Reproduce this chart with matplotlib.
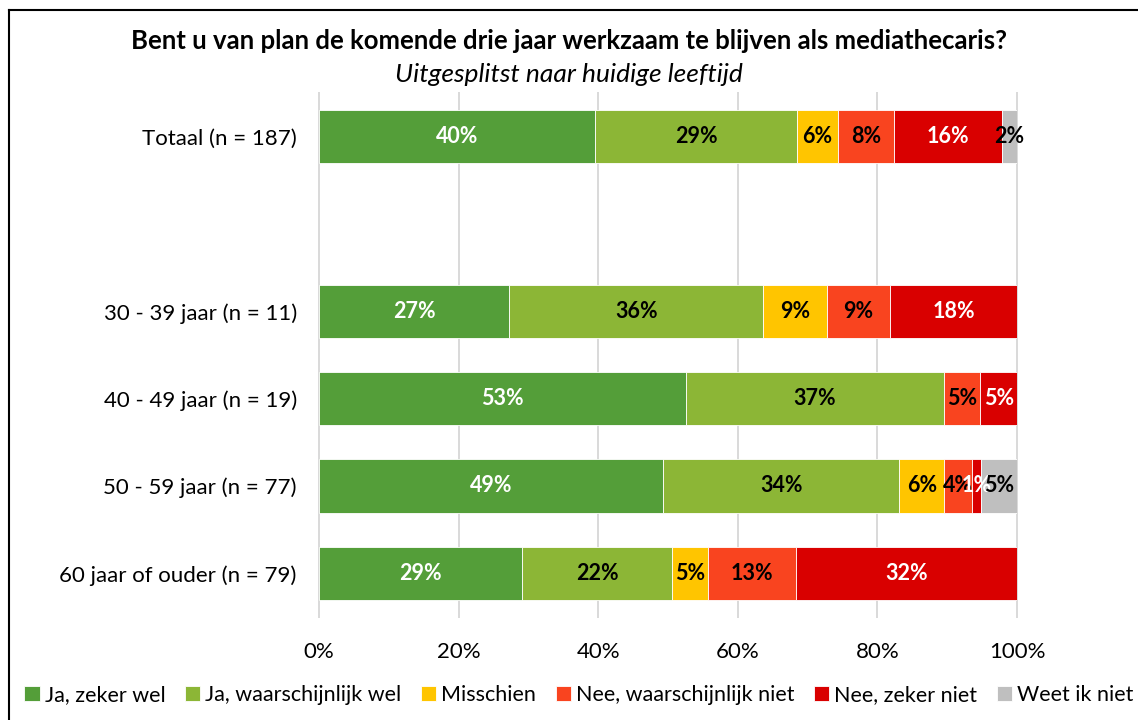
import numpy as np
import matplotlib
matplotlib.use("Agg")
import matplotlib.pyplot as plt
from matplotlib.lines import Line2D

plt.rcParams['font.family'] = ['Lato', 'DejaVu Sans']

# antwoordcategorieen en kleuren
antwoorden = ["Ja, zeker wel", "Ja, waarschijnlijk wel", "Misschien",
              "Nee, waarschijnlijk niet", "Nee, zeker niet", "Weet ik niet"]
kleuren = ["#549E39", "#8CB636", "#FFC500", "#F9441F", "#D90000", "#BFBFBF"]
tekstkleur = ["white", "black", "black", "black", "white", "black"]

# groepen (leeg = witregel tussen totaal en leeftijden)
groepen = ["Totaal (n = 187)", "", "30 - 39 jaar (n = 11)", "40 - 49 jaar (n = 19)",
           "50 - 59 jaar (n = 77)", "60 jaar of ouder (n = 79)"]
n_groep = [187, 0, 11, 19, 77, 79]

# aantallen per antwoord, per groep
ja_zeker = [74, 0, 3, 10, 38, 23]
ja_waarsch = [54, 0, 4, 7, 26, 17]
misschien = [11, 0, 1, 0, 5, 4]
nee_waarsch = [15, 0, 1, 1, 3, 10]
nee_zeker = [29, 0, 2, 1, 1, 25]
weet_niet = [4, 0, 0, 0, 4, 0]

aantallen = np.array([ja_zeker, ja_waarsch, misschien, nee_waarsch, nee_zeker, weet_niet], dtype=float)
n = np.array(n_groep, dtype=float)
pct = np.divide(aantallen, n, out=np.zeros_like(aantallen), where=n > 0) * 100

fig = plt.figure(figsize=(11.38, 7.2), dpi=100)
ax = fig.add_axes([319 / 1138, 1 - 617 / 720, 698 / 1138, 524 / 720])

y = np.arange(len(groepen))
gevuld = n > 0  # witregel niet tekenen
links = np.zeros(len(groepen))
for i, naam in enumerate(antwoorden):
    ax.barh(y[gevuld], pct[i][gevuld], left=links[gevuld], height=0.61,
            color=kleuren[i], label=naam, edgecolor="white", linewidth=0.6, zorder=3)
    for j in range(len(groepen)):
        if pct[i, j] > 0:
            ax.text(links[j] + pct[i, j] / 2, y[j], f"{pct[i, j]:.0f}%",
                    ha="center", va="center", fontsize=15.5, fontweight="bold",
                    color=tekstkleur[i], zorder=4)
    links += pct[i]

ax.set_xlim(0, 100)
ax.set_ylim(len(groepen) - 0.5, -0.5)
ax.set_yticks(y)
ax.set_yticklabels(groepen, fontsize=16)
ax.set_xticks(np.arange(0, 101, 20))
ax.set_xticklabels([f"{v}%" for v in range(0, 101, 20)], fontsize=16)
ax.tick_params(length=0)
ax.tick_params(axis="y", pad=16)
ax.tick_params(axis="x", pad=18)
ax.grid(axis="x", color="#D9D9D9", linewidth=1.4, zorder=0)
for gl in ax.get_xgridlines():
    gl.set_clip_on(False)
ax.set_axisbelow(True)
for s in ax.spines.values():
    s.set_visible(False)

fig.text(0.5, 1 - 41 / 720, "Bent u van plan de komende drie jaar werkzaam te blijven als mediathecaris?",
         ha="center", va="center", fontsize=18.5, fontweight="bold")
fig.text(0.5, 1 - 75 / 720, "Uitgesplitst naar huidige leeftijd",
         ha="center", va="center", fontsize=19, style="italic")

fig.legend(loc="center", bbox_to_anchor=(0.5 + 10 / 1138, 1 - 695 / 720), ncol=6, frameon=False,
           fontsize=15.5, handlelength=0.7, handleheight=0.7, handletextpad=0.25,
           columnspacing=0.9)

# kaderlijnen links en boven
fig.add_artist(Line2D([9 / 1138, 9 / 1138], [0, 1 - 10 / 720], transform=fig.transFigure,
                      color="black", linewidth=1.5))
fig.add_artist(Line2D([9 / 1138, 1], [1 - 10 / 720, 1 - 10 / 720], transform=fig.transFigure,
                      color="black", linewidth=1.5))

fig.savefig("out.png", dpi=100)
